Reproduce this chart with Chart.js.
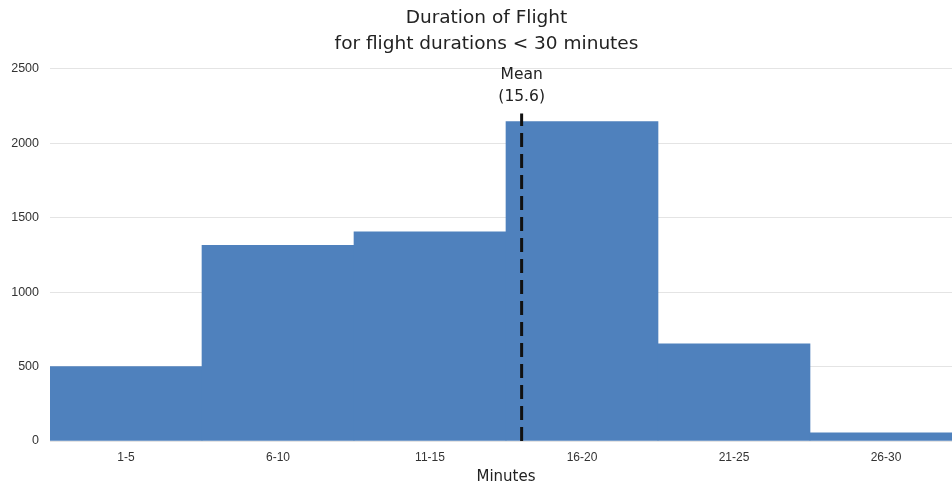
<!DOCTYPE html>
<html>
<head>
<meta charset="utf-8">
<script src="https://cdn.jsdelivr.net/npm/chart.js@4"></script>
<style>
  html, body { margin: 0; padding: 0; overflow: hidden; background: #fff; width: 952px; height: 488px; }
  canvas { display: block; }
</style>
</head>
<body>
<canvas id="c" width="962" height="488"></canvas>
<script>
// Flight duration histogram (flights under 30 minutes)
const categories = ['1-5', '6-10', '11-15', '16-20', '21-25', '26-30'];
const flightCounts = [500, 1315, 1405, 2145, 652, 55];
const yTicks = [0, 500, 1000, 1500, 2000, 2500];
const minuteRange = [0, 30];
const meanMinutes = 15.6;
const meanLineTop = 2200;

const BAR_BLUE = '#4F81BD';
const TITLE_FONT = "'DejaVu Sans', 'Liberation Sans', Arial, sans-serif";
const TICK_FONT = "'Liberation Sans', Arial, sans-serif";

// Writes "Mean (15.6)" above the dashed mean line
const meanLabel = {
  id: 'meanLabel',
  afterDatasetsDraw(chart) {
    const meta = chart.getDatasetMeta(1);
    const top = meta.data[1];
    if (!top) return;
    const ctx = chart.ctx;
    ctx.save();
    ctx.fillStyle = '#222';
    ctx.font = '15.5px ' + TITLE_FONT;
    ctx.textAlign = 'center';
    ctx.textBaseline = 'middle';
    ctx.fillText('Mean', top.x, top.y - 38);
    ctx.fillText('(' + meanMinutes + ')', top.x, top.y - 16);
    ctx.restore();
  }
};

new Chart(document.getElementById('c'), {
  type: 'bar',
  data: {
    labels: categories,
    datasets: [
      {
        type: 'bar',
        data: flightCounts,
        backgroundColor: BAR_BLUE,
        borderWidth: 0,
        categoryPercentage: 1,
        barPercentage: 1,
        grouped: false,
        xAxisID: 'x',
        order: 1
      },
      {
        type: 'line',
        data: [{ x: meanMinutes, y: 0 }, { x: meanMinutes, y: meanLineTop }],
        xAxisID: 'xm',
        borderColor: '#111',
        borderWidth: 3,
        borderDash: [14, 7],
        pointRadius: 0,
        fill: false,
        order: 0
      }
    ]
  },
  options: {
    responsive: false,
    animation: false,
    devicePixelRatio: 1,
    layout: { padding: { left: 11, right: 0, top: 0, bottom: 0 } },
    plugins: {
      legend: { display: false },
      tooltip: { enabled: false },
      title: {
        display: true,
        text: ['Duration of Flight', 'for flight durations < 30 minutes'],
        color: '#222',
        font: { family: TITLE_FONT, size: 18.5, weight: 'normal', lineHeight: 1.4 },
        padding: { top: 5, bottom: 12 }
      }
    },
    scales: {
      x: {
        type: 'category',
        grid: { display: false, drawTicks: false },
        border: { display: false },
        ticks: { color: '#333', font: { family: TICK_FONT, size: 12 }, padding: 9, maxRotation: 0 },
        title: {
          display: true,
          text: 'Minutes',
          color: '#222',
          font: { family: TITLE_FONT, size: 15, lineHeight: 1.2 },
          padding: { top: 0, bottom: 2 }
        },
        afterFit(scale) { scale.height = 47; }
      },
      xm: {
        type: 'linear',
        display: false,
        min: minuteRange[0],
        max: minuteRange[1]
      },
      y: {
        min: yTicks[0],
        max: yTicks[yTicks.length - 1],
        grid: { color: '#e4e4e4', lineWidth: 1, drawTicks: false },
        border: { display: false },
        ticks: {
          color: '#333',
          font: { family: TICK_FONT, size: 12.5 },
          padding: 11,
          callback: v => String(v)
        },
        afterBuildTicks(scale) { scale.ticks = yTicks.map(v => ({ value: v })); },
        afterFit(scale) { scale.width = 39; }
      }
    }
  },
  plugins: [meanLabel]
});
</script>
</body>
</html>
